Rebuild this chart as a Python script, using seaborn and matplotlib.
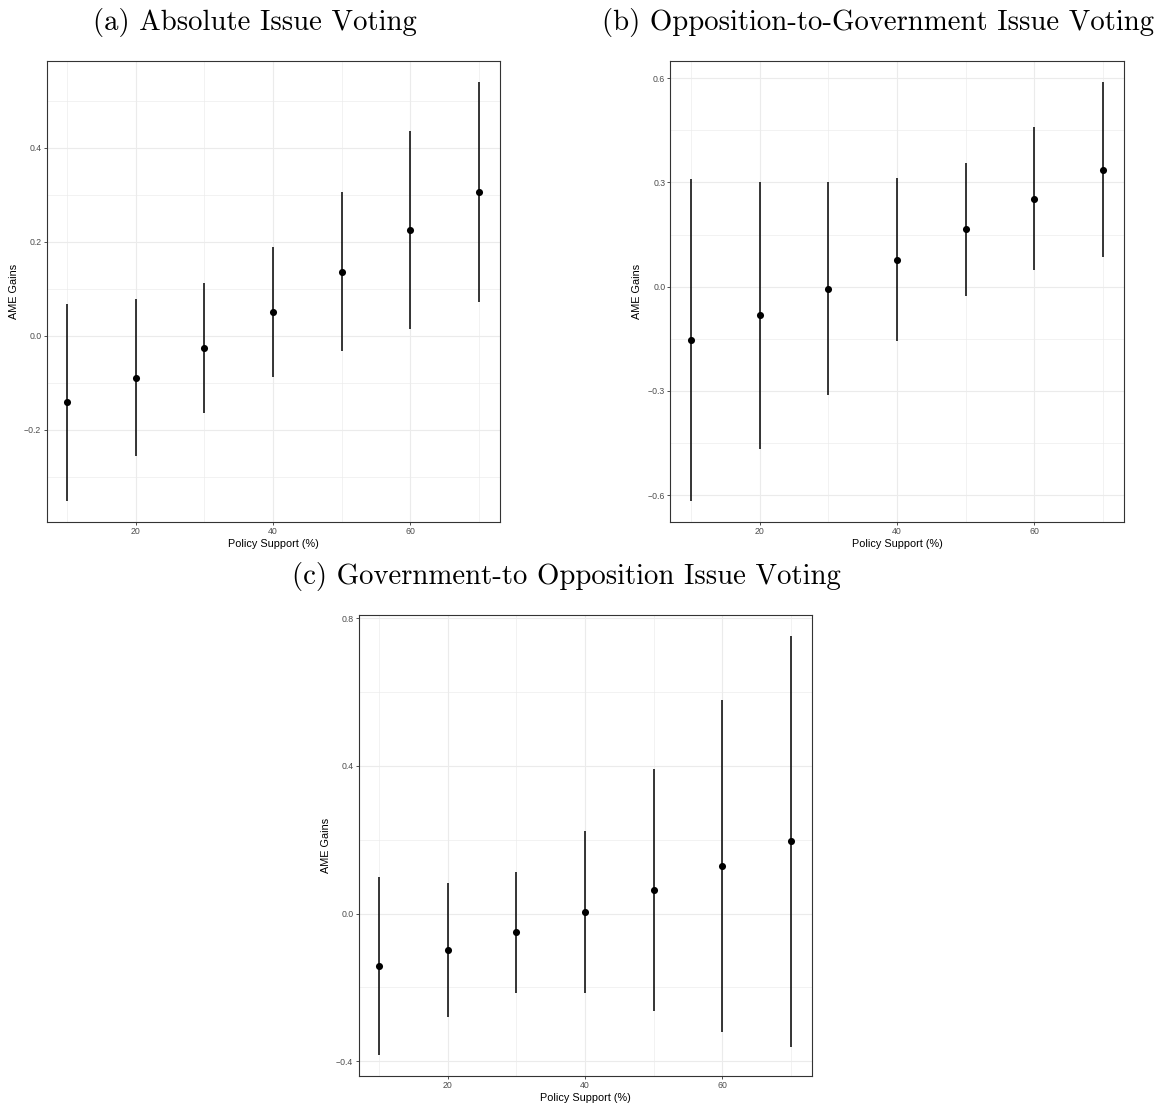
import numpy as np
import pandas as pd
import matplotlib
matplotlib.use("Agg")
import matplotlib.pyplot as plt
from matplotlib.ticker import FixedLocator
import seaborn as sns

# Policy support levels (%)
support = [10, 20, 30, 40, 50, 60, 70]

# (a) Absolute issue voting
abs_est = [-0.142, -0.091, -0.026, 0.050, 0.136, 0.225, 0.306]
abs_lo = [-0.352, -0.257, -0.165, -0.089, -0.033, 0.015, 0.072]
abs_hi = [0.067, 0.078, 0.113, 0.189, 0.306, 0.435, 0.540]

# (b) Opposition-to-government issue voting
o2g_est = [-0.155, -0.083, -0.006, 0.078, 0.165, 0.253, 0.337]
o2g_lo = [-0.617, -0.467, -0.311, -0.156, -0.026, 0.049, 0.084]
o2g_hi = [0.310, 0.300, 0.300, 0.313, 0.356, 0.458, 0.589]

# (c) Government-to-opposition issue voting
g2o_est = [-0.142, -0.098, -0.051, 0.005, 0.065, 0.130, 0.196]
g2o_lo = [-0.383, -0.279, -0.214, -0.216, -0.263, -0.320, -0.360]
g2o_hi = [0.099, 0.082, 0.113, 0.225, 0.392, 0.579, 0.752]

titles = ["(a) Absolute Issue Voting",
          "(b) Opposition-to-Government Issue Voting",
          "(c) Government-to Opposition Issue Voting"]

y_major = [[-0.2, 0.0, 0.2, 0.4],
           [-0.6, -0.3, 0.0, 0.3, 0.6],
           [-0.4, 0.0, 0.4, 0.8]]
y_minor = [[-0.3, -0.1, 0.1, 0.3, 0.5],
           [-0.45, -0.15, 0.15, 0.45],
           [-0.2, 0.2, 0.6]]

sns.set_theme(style="white")
plt.rcParams["font.family"] = ["Liberation Sans", "DejaVu Sans"]

W, H = 1166, 1106
fig = plt.figure(figsize=(W / 100, H / 100), dpi=100)


def px_axes(x0, y0, x1, y1):
    return fig.add_axes([x0 / W, 1 - y1 / H, (x1 - x0) / W, (y1 - y0) / H])


axes = [px_axes(46.5, 61, 499.5, 522),
        px_axes(670.5, 61, 1123.5, 522),
        px_axes(358.5, 615, 811.5, 1076)]

series = [(abs_est, abs_lo, abs_hi),
          (o2g_est, o2g_lo, o2g_hi),
          (g2o_est, g2o_lo, g2o_hi)]

grid_col = "#EBEBEB"
frame_col = "#333333"

for i, (ax, (est, lo, hi)) in enumerate(zip(axes, series)):
    df = pd.DataFrame({"support": support, "est": est, "lo": lo, "hi": hi})
    ax.set_facecolor("white")
    # ggplot-style expansion of 5% on each side
    ymin, ymax = min(lo), max(hi)
    pad = 0.05 * (ymax - ymin)
    ax.set_xlim(7, 73)
    ax.set_ylim(ymin - pad, ymax + pad)

    ax.xaxis.set_major_locator(FixedLocator([20, 40, 60]))
    ax.xaxis.set_minor_locator(FixedLocator([10, 30, 50, 70]))
    ax.yaxis.set_major_locator(FixedLocator(y_major[i]))
    ax.yaxis.set_minor_locator(FixedLocator(y_minor[i]))
    ax.grid(which="major", color=grid_col, linewidth=0.8)
    ax.grid(which="minor", color=grid_col, linewidth=0.45)
    ax.set_axisbelow(True)

    ax.vlines(df["support"], df["lo"], df["hi"], color="black", linewidth=1.1, zorder=3)
    sns.scatterplot(data=df, x="support", y="est", ax=ax, color="black",
                    s=26, edgecolor="black", linewidth=0, zorder=4, legend=False)

    ax.set_yticklabels([f"{v:.1f}".replace("-", "\u2212") for v in y_major[i]])
    ax.set_xticklabels(["20", "40", "60"])
    ax.tick_params(which="major", length=2.2, width=0.6, color=frame_col,
                   labelsize=6.3, labelcolor="#4D4D4D", pad=1.5,
                   bottom=True, left=True)
    ax.tick_params(which="minor", length=0)
    for sp in ax.spines.values():
        sp.set_color(frame_col)
        sp.set_linewidth(0.8)
        sp.set_visible(True)
    ax.set_xlabel("Policy Support (%)", fontsize=7.8, color="black", labelpad=2)
    ax.set_ylabel("AME Gains", fontsize=7.8, color="black", labelpad=4)

# Sub-figure captions
cap_kw = dict(family=["cmr10", "DejaVu Serif"], fontsize=20.7, ha="center",
              va="center", color="black")
fig.text(254.5 / W, 1 - 22 / H, titles[0], **cap_kw)
fig.text(878.5 / W, 1 - 22 / H, titles[1], **cap_kw)
fig.text(566.5 / W, 1 - 576 / H, titles[2], **cap_kw)

fig.savefig("out.png", dpi=100, facecolor="white")
